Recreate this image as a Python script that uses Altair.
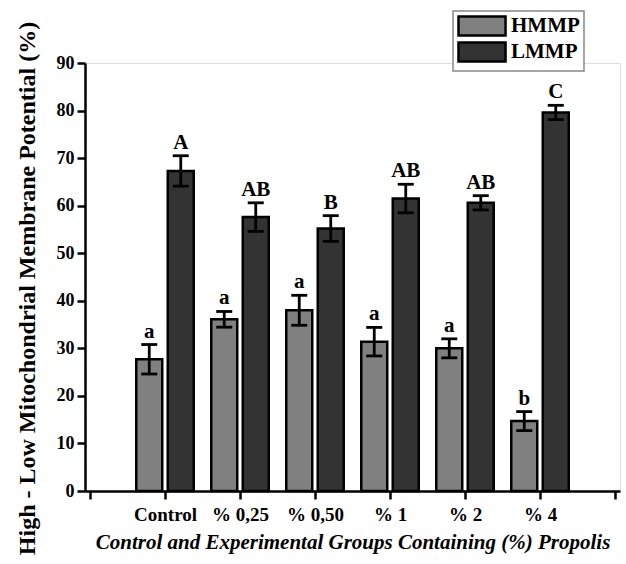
import altair as alt
import pandas as pd

groups = ["Control", "% 0,25", "% 0,50", "% 1", "% 2", "% 4"]
series_names = ["HMMP", "LMMP"]
hmmp = [27.7, 36.1, 38.0, 31.4, 30.0, 14.7]
hmmp_err = [3.1, 1.65, 3.15, 3.0, 2.0, 2.0]
hmmp_letters = ["a", "a", "a", "a", "a", "b"]
lmmp = [67.3, 57.6, 55.2, 61.5, 60.6, 79.6]
lmmp_err = [3.2, 3.0, 2.7, 3.0, 1.5, 1.5]
lmmp_letters = ["A", "AB", "B", "AB", "AB", "C"]
colors = ["#808080", "#333333"]

rows = []
for i, g in enumerate(groups):
    rows.append(dict(idx=i + 1, group=g, series="HMMP", value=hmmp[i], err=hmmp_err[i], letter=hmmp_letters[i]))
    rows.append(dict(idx=i + 1, group=g, series="LMMP", value=lmmp[i], err=lmmp_err[i], letter=lmmp_letters[i]))
df = pd.DataFrame(rows)

FONT = "Liberation Serif"
label_expr = "[" + ",".join("'" + g + "'" for g in [""] + groups + [""]) + "][datum.value]"

xscale = alt.Scale(domain=[0, 7], nice=False, zero=False)
yscale = alt.Scale(domain=[0, 90], nice=False)

base = alt.Chart(df).transform_calculate(
    xpos="datum.idx + (datum.series == 'HMMP' ? -0.21 : 0.21)",
    lo="datum.value - datum.err",
    hi="datum.value + datum.err",
)

xaxis = alt.Axis(
    values=list(range(0, 8)), labelExpr=label_expr, title="Control and Experimental Groups Containing (%) Propolis",
    grid=False, domainColor="black", domainWidth=2.5, tickColor="black", tickWidth=2.5, tickSize=8,
    labelFont=FONT, labelFontSize=19, labelFontWeight="bold", labelColor="black", labelPadding=6,
    titleFont=FONT, titleFontSize=21, titleFontWeight="bold", titleFontStyle="italic", titleColor="black",
    titleY=57, titleBaseline="alphabetic", labelFlush=False,
)
yaxis = alt.Axis(
    values=list(range(0, 91, 10)), title="High - Low Mitochondrial Membrane Potential (%)",
    grid=False, domainColor="black", domainWidth=2.5, tickColor="black", tickWidth=2.5, tickSize=8,
    labelFont=FONT, labelFontSize=18, labelFontWeight="bold", labelColor="black", labelPadding=3,
    titleFont=FONT, titleFontSize=24, titleFontWeight="bold", titleColor="black",
    titleX=-51, titleY=225, titleBaseline="alphabetic", titleAngle=-90, titleAlign="center",
)

bars = base.mark_bar(size=26, stroke="black", strokeWidth=2.5, opacity=1).encode(
    x=alt.X("xpos:Q", scale=xscale, axis=xaxis),
    y=alt.Y("value:Q", scale=yscale, axis=yaxis),
    color=alt.Color(
        "series:N",
        scale=alt.Scale(domain=series_names, range=colors),
        legend=alt.Legend(
            title=None, orient="none", legendX=368, legendY=-52,
            symbolType="M-1,-1H3.95V1H-1Z", symbolSize=361, symbolStrokeColor="black",
            symbolStrokeWidth=2.5, symbolOpacity=1, labelOffset=32,
            labelFont=FONT, labelFontSize=21, labelFontWeight="bold", labelColor="black",
            strokeColor="#888888", padding=4, rowPadding=-8, fillColor="white",
        ),
    ),
)

rules = base.mark_rule(color="black", strokeWidth=2.8).encode(
    x="xpos:Q", y="lo:Q", y2="hi:Q"
)
caps_hi = base.mark_tick(color="black", size=16, thickness=2.8, orient="horizontal", opacity=1).encode(
    x="xpos:Q", y="hi:Q"
)
caps_lo = base.mark_tick(color="black", size=16, thickness=2.8, orient="horizontal", opacity=1).encode(
    x="xpos:Q", y="lo:Q"
)
texts = base.mark_text(font=FONT, fontSize=21, fontWeight="bold", color="black", baseline="alphabetic", dy=-7).encode(
    x="xpos:Q", y="hi:Q", text="letter:N"
)

chart = alt.layer(bars, rules, caps_hi, caps_lo, texts).properties(
    width=535, height=428,
    autosize=alt.AutoSizeParams(type="none"),
    padding={"left": 85, "top": 63, "right": 6, "bottom": 73},
).configure_view(stroke=None).configure(background="white").configure_legend(strokeWidth=1.5)

chart.save("out.html", embed_options={"renderer": "svg", "actions": False})
